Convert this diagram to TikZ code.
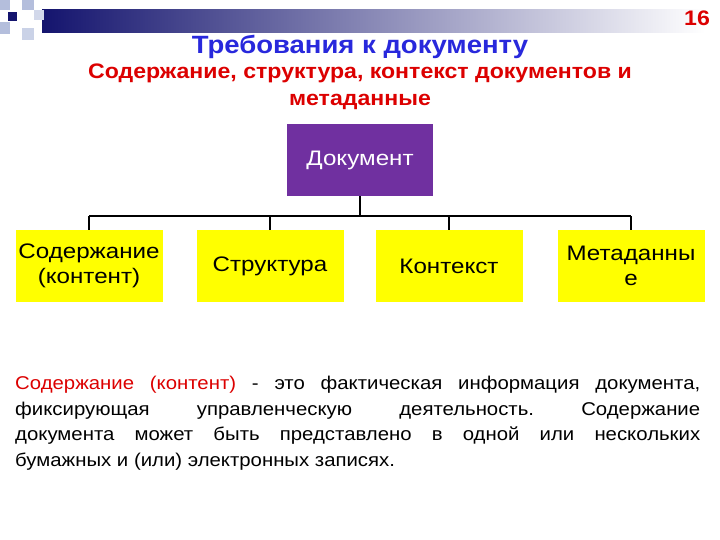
\documentclass[tikz,border=0pt]{standalone}
\usepackage{fontspec}
\setmainfont{Liberation Sans}[FakeStretch=1.1]
\newfontfamily\boxfont{Liberation Sans}[FakeStretch=1.15]
\definecolor{navy}{RGB}{20,20,110}
\definecolor{lblue}{RGB}{180,190,220}
\definecolor{purp}{RGB}{112,48,160}
\definecolor{yel}{RGB}{255,255,0}
\definecolor{tblue}{RGB}{40,40,220}
\definecolor{tred}{RGB}{220,0,0}
\frenchspacing
\begin{document}
\begin{tikzpicture}[x=1pt,y=-1pt,
  leaf/.style={fill=yel,minimum width=147pt,minimum height=72pt,inner sep=0pt,align=center,font=\boxfont\fontsize{21}{25}\selectfont},
  conn/.style={line width=1.2pt,black}]
\useasboundingbox (0,0) rectangle (720,540);
\fill[white] (0,0) rectangle (720,540);
% decoration
\shade[left color=navy,right color=white] (42,10) rectangle (705,33);
\fill[lblue] (0,0) rectangle (10,10);
\fill[lblue] (22,0) rectangle (34,10);
\fill[lblue] (0,22) rectangle (10,34);
\fill[lblue!70] (22,28) rectangle (34,40);
\fill[lblue!60] (34,10) rectangle (44,20);
\fill[navy] (8,12) rectangle (17,21);
\node[font=\bfseries\fontsize{21}{21}\selectfont,text=tred] (num) at (697,18) {16};
\node[font=\bfseries\fontsize{25}{25}\selectfont,text=tblue] (t1) at (360,47) {Требования к документу};
\node[font=\bfseries\fontsize{21}{27}\selectfont,text=tred,align=center] (t2) at (360,87) {Содержание, структура, контекст документов и\\метаданные};
% nodes
\node[fill=purp,minimum width=146pt,minimum height=72pt,text=white,font=\boxfont\fontsize{21}{25}\selectfont] (doc) at (360,160) {Документ};
\node[leaf] (a) at (89,266) {Содержание\\(контент)};
\node[leaf] (b) at (270,266) {Структура};
\node[leaf] (c) at (449,266) {Контекст};
\node[leaf] (d) at (631,266) {Метаданны\\е};
\coordinate (bus) at (360,216);
\draw[conn] (doc.south) -- (bus);
\foreach \n in {a,b,c,d} \draw[conn] (\n.north) -- (\n.north |- bus);
\draw[conn] (a.north |- bus) -- (d.north |- bus);
% paragraph
\node[anchor=north west,inner sep=0pt,text width=685pt,align=justify,font=\fontsize{18.5}{25.5}\selectfont] (p) at (15,376)
{\frenchspacing\textcolor{tred}{Содержание (контент)} - это фактическая информация документа,\linebreak фиксирующая управленческую деятельность. Содержание\linebreak документа может быть представлено в одной или нескольких\linebreak бумажных и (или) электронных записях.};
\end{tikzpicture}
\end{document}
